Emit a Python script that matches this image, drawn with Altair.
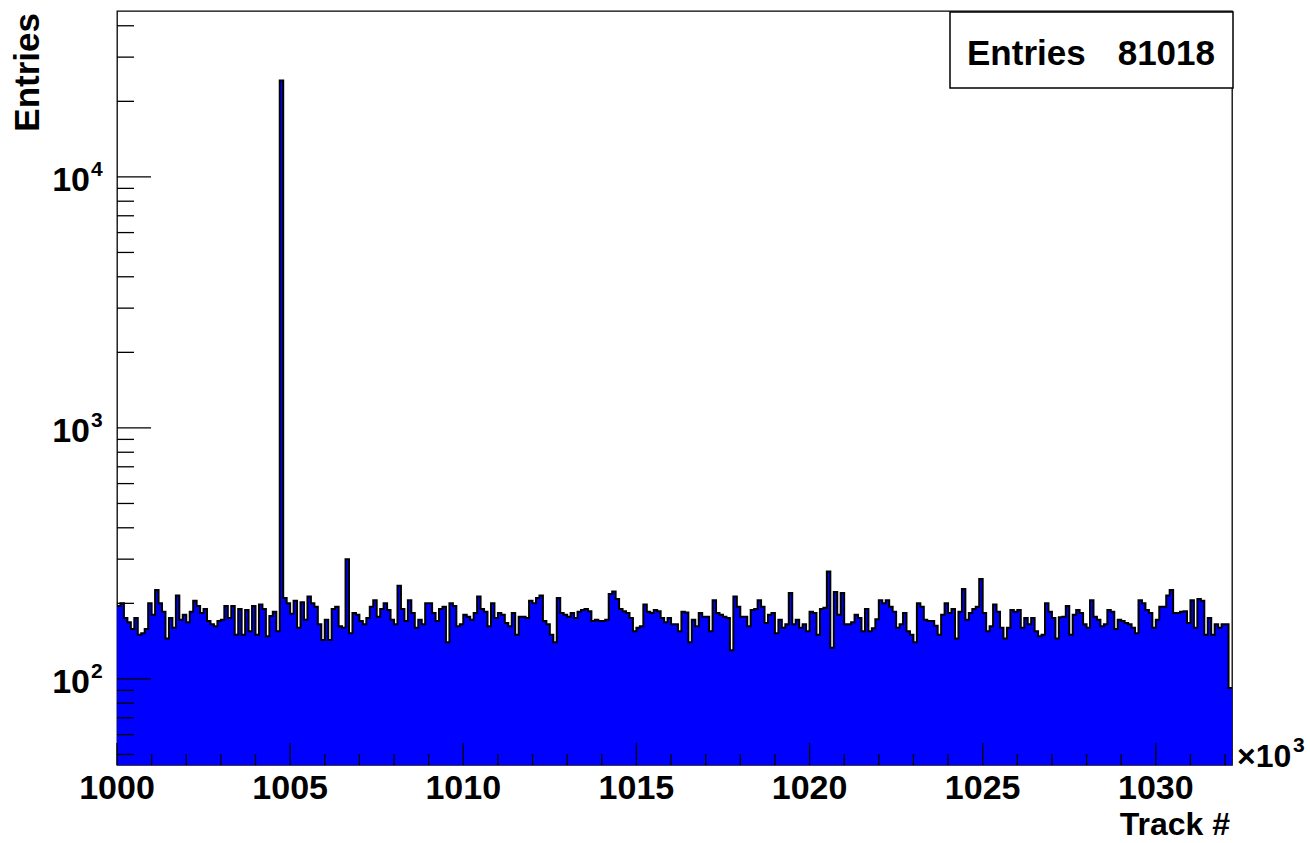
import altair as alt
import pandas as pd

# ---- histogram data (bins of 0.1 x10^3 tracks starting at 1000) ----
counts = [
    195, 200, 175, 168, 158, 175, 150, 152, 158, 200,
    180, 226, 200, 185, 145, 175, 160, 215, 172, 180,
    168, 185, 205, 195, 183, 190, 170, 165, 162, 170,
    172, 195, 175, 195, 150, 190, 150, 188, 155, 195,
    150, 198, 190, 148, 178, 185, 155, 24200, 210, 200,
    182, 205, 160, 202, 172, 213, 200, 194, 165, 143,
    172, 143, 190, 194, 162, 160, 300, 152, 183, 180,
    170, 165, 175, 194, 206, 177, 190, 200, 188, 172,
    165, 235, 190, 170, 206, 183, 160, 172, 165, 200,
    200, 183, 170, 190, 194, 140, 200, 195, 162, 165,
    180, 177, 172, 183, 213, 190, 185, 162, 200, 175,
    183, 180, 167, 162, 183, 150, 177, 177, 175, 205,
    200, 210, 215, 170, 165, 150, 140, 210, 183, 180,
    177, 183, 175, 185, 188, 190, 186, 170, 172, 170,
    170, 172, 218, 223, 208, 190, 186, 183, 175, 155,
    160, 162, 198, 185, 183, 188, 186, 175, 168, 175,
    165, 165, 155, 185, 184, 140, 172, 162, 183, 177,
    177, 155, 206, 183, 180, 177, 175, 130, 213, 194,
    177, 177, 162, 188, 190, 206, 194, 167, 180, 183,
    152, 172, 160, 165, 220, 165, 172, 160, 165, 155,
    185, 183, 150, 190, 192, 268, 133, 222, 180, 220,
    165, 165, 168, 180, 175, 155, 190, 155, 159, 173,
    206, 200, 206, 194, 185, 160, 165, 183, 155, 150,
    140, 200, 194, 172, 170, 170, 163, 150, 180, 200,
    183, 190, 145, 185, 228, 172, 183, 190, 194, 250,
    183, 155, 162, 198, 185, 160, 145, 160, 188, 185,
    188, 160, 175, 165, 175, 155, 148, 150, 200, 185,
    175, 145, 176, 177, 195, 150, 180, 188, 183, 165,
    160, 206, 177, 172, 162, 165, 188, 185, 158, 172,
    170, 167, 165, 160, 152, 206, 200, 188, 183, 160,
    172, 194, 194, 215, 226, 183, 183, 185, 186, 167,
    206, 160, 208, 205, 150, 175, 150, 165, 160, 165,
    165, 92,
]
x_start = 1000.0
bin_width = 0.1
x_end = 1032.2
y_lo, y_hi = 45.4, 45800.0

x_major = [1000, 1005, 1010, 1015, 1020, 1025, 1030]
x_major_labels = ["1000", "1005", "1010", "1015", "1020", "1025", "1030"]
x_minor = [v for v in range(1001, 1033) if v % 5 != 0]
y_major = [100, 1000, 10000]
y_major_exp = ["2", "3", "4"]
y_minor = [50, 60, 70, 80, 90,
           200, 300, 400, 500, 600, 700, 800, 900,
           2000, 3000, 4000, 5000, 6000, 7000, 8000, 9000,
           20000, 30000, 40000]
stats_label = "Entries"
stats_value = "81018"

W, H = 1115, 754
FONT = "Liberation Sans"

# ---- tables ----
edges = [round(x_start + i * bin_width, 4) for i in range(len(counts))] + [x_end]
step_df = pd.DataFrame({
    "x": edges,
    "n": counts + [counts[-1]],
    "base": [y_lo] * (len(counts) + 1),
})

xs = alt.Scale(domain=[x_start, x_end], nice=False, zero=False)
ys = alt.Scale(type="log", domain=[y_lo, y_hi], nice=False)

fill = alt.Chart(step_df).mark_area(
    interpolate="step-after", color="#0000ff", opacity=1
).encode(
    x=alt.X("x:Q", scale=xs, axis=None),
    y=alt.Y("n:Q", scale=ys, axis=None),
    y2="base:Q",
)
outline = alt.Chart(step_df).mark_line(
    interpolate="step-after", color="black", strokeWidth=2
).encode(
    x=alt.X("x:Q", scale=xs, axis=None),
    y=alt.Y("n:Q", scale=ys, axis=None),
)

xmaj_df = pd.DataFrame({"x": x_major, "lab": x_major_labels})
xmin_df = pd.DataFrame({"x": x_minor})
ymaj_df = pd.DataFrame({"y": y_major, "e": y_major_exp})
ymin_df = pd.DataFrame({"y": y_minor})

xmaj_ticks = alt.Chart(xmaj_df).mark_rule(color="black", strokeWidth=1.3).encode(
    x=alt.X("x:Q", scale=xs, axis=None), y=alt.value(H), y2=alt.value(H - 22))
xmin_ticks = alt.Chart(xmin_df).mark_rule(color="black", strokeWidth=1.3).encode(
    x=alt.X("x:Q", scale=xs, axis=None), y=alt.value(H), y2=alt.value(H - 11))
ymaj_ticks = alt.Chart(ymaj_df).mark_rule(color="black", strokeWidth=1.3).encode(
    y=alt.Y("y:Q", scale=ys, axis=None), x=alt.value(0), x2=alt.value(34))
ymin_ticks = alt.Chart(ymin_df).mark_rule(color="black", strokeWidth=1.3).encode(
    y=alt.Y("y:Q", scale=ys, axis=None), x=alt.value(0), x2=alt.value(17))

xlabels = alt.Chart(xmaj_df).mark_text(
    font=FONT, fontWeight="bold", fontSize=34, align="center", baseline="alphabetic", color="black"
).encode(x=alt.X("x:Q", scale=xs, axis=None), y=alt.value(H + 34), text="lab:N")

ylabels = alt.Chart(ymaj_df).mark_text(
    font=FONT, fontWeight="bold", fontSize=34, align="right", baseline="middle", dy=4, color="black"
).encode(y=alt.Y("y:Q", scale=ys, axis=None), x=alt.value(-27), text=alt.value("10"))
yexp = alt.Chart(ymaj_df).mark_text(
    font=FONT, fontWeight="bold", fontSize=21, align="left", baseline="middle", dy=-7, color="black"
).encode(y=alt.Y("y:Q", scale=ys, axis=None), x=alt.value(-26), text="e:N")

one = pd.DataFrame({"k": [0]})


def txt(s, x, y, size, align="left", baseline="alphabetic", angle=0, weight="bold"):
    props = dict(font=FONT, fontWeight=weight, fontSize=size, align=align,
                 baseline=baseline, color="black")
    if angle:
        props["angle"] = angle
    return alt.Chart(one).mark_text(**props).encode(
        x=alt.value(x), y=alt.value(y), text=alt.value(s))


ytitle = txt("Entries", -89, 2, 35, align="right", baseline="middle", angle=270)
xtitle = txt("Track #", W - 2, H + 70, 32, align="right")
times = txt("\u00d710", 1120, H + 2, 32)
times_exp = txt("3", 1176, H - 13, 21)

box = alt.Chart(one).mark_rect(fill="white", stroke="black", strokeWidth=1.5).encode(
    x=alt.value(833), x2=alt.value(W + 1), y=alt.value(1), y2=alt.value(77))
box_l = txt(stats_label, 850, 54, 35)
box_r = txt(stats_value, 1098, 54, 35, align="right")

chart = alt.layer(
    fill, outline, xmaj_ticks, xmin_ticks, ymaj_ticks, ymin_ticks,
    xlabels, ylabels, yexp, ytitle, xtitle, times, times_exp, box, box_l, box_r,
).properties(
    width=W, height=H,
    padding={"left": 117, "top": 11, "right": 78, "bottom": 78},
    autosize=alt.AutoSizeParams(type="none"),
    background="white",
).configure_view(stroke="black", strokeWidth=1.3)

chart.save("out.html", embed_options={"renderer": "svg", "actions": False})
